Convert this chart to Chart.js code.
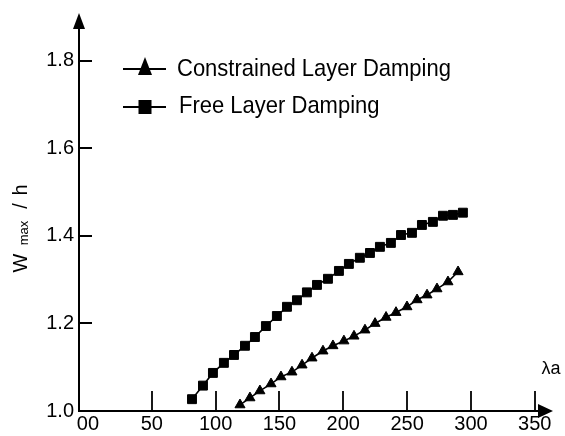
<!DOCTYPE html>
<html><head><meta charset="utf-8">
<script src="https://cdn.jsdelivr.net/npm/chart.js@4/dist/chart.umd.min.js"></script>
<style>html,body{margin:0;padding:0;background:#fff}#wrap{width:565px;height:436px}</style>
</head><body><div id="wrap"><canvas id="c" width="565" height="436"></canvas></div>
<script>
// ---- data ----
const seriesNames = ['Constrained Layer Damping', 'Free Layer Damping'];
const constrainedX = [119.1,126.9,134.7,143.4,151.2,159.8,167.7,175.5,184.1,191.9,200.5,208.4,217.0,224.9,233.5,241.3,249.9,257.8,265.6,273.4,282.0,289.9];
const constrainedY = [1.014,1.030,1.046,1.062,1.078,1.089,1.105,1.121,1.137,1.149,1.160,1.171,1.185,1.200,1.214,1.225,1.238,1.254,1.265,1.279,1.295,1.318];
const freeX = [81.5,90.1,97.9,106.5,114.4,123.0,130.8,139.4,148.0,155.9,163.7,171.5,179.4,188.0,196.6,204.4,213.0,220.9,228.7,237.3,245.2,253.8,261.6,270.2,278.1,285.9,293.7];
const freeY = [1.027,1.058,1.087,1.110,1.128,1.149,1.169,1.194,1.217,1.238,1.253,1.271,1.288,1.302,1.320,1.336,1.350,1.361,1.375,1.384,1.402,1.407,1.425,1.432,1.446,1.448,1.453];
const xTickValues = [0,50,100,150,200,250,300,350];
const xTickLabels = ['00','50','100','150','200','250','300','350'];
const yTickValues = [1.0,1.2,1.4,1.6,1.8];
const yAxisTitle = ['W','max','/','h'];
const xAxisTitle = 'λa';

const FONT = '"Liberation Sans", Arial, Helvetica, sans-serif';
Chart.defaults.font.family = FONT;
Chart.defaults.color = '#000';

const pts = (xs, ys) => xs.map((x, i) => ({x: x, y: ys[i]}));

const decor = {
  id: 'decor',
  afterDraw(chart) {
    const ctx = chart.ctx, a = chart.chartArea;
    const xs = chart.scales.x, ys = chart.scales.y;
    ctx.save();
    ctx.strokeStyle = '#000'; ctx.fillStyle = '#000';
    // inward tick marks
    ctx.lineWidth = 2;
    yTickValues.forEach(v => {
      if (v <= ys.min) return;
      const py = Math.round(ys.getPixelForValue(v));
      ctx.beginPath(); ctx.moveTo(a.left, py); ctx.lineTo(a.left + 13, py); ctx.stroke();
    });
    ctx.lineWidth = 1.8;
    xTickValues.forEach(v => {
      if (v <= 0) return;
      const px = Math.round(xs.getPixelForValue(v));
      ctx.beginPath(); ctx.moveTo(px, a.bottom); ctx.lineTo(px, a.bottom - 20); ctx.stroke();
    });
    // arrows
    ctx.beginPath(); ctx.moveTo(a.left, 13); ctx.lineTo(a.left - 6, 29); ctx.lineTo(a.left + 6, 29); ctx.closePath(); ctx.fill();
    ctx.beginPath(); ctx.moveTo(553, a.bottom); ctx.lineTo(538, a.bottom - 7); ctx.lineTo(538, a.bottom + 7); ctx.closePath(); ctx.fill();
    // x axis title
    ctx.font = '18px ' + FONT; ctx.textAlign = 'center'; ctx.textBaseline = 'middle';
    ctx.fillText(xAxisTitle, 551, 369);
    // y axis title (rotated, with subscript)
    const ypos = [263, 233, 206, 190];
    const sizes = [20, 13, 20, 20];
    yAxisTitle.forEach((t, i) => {
      ctx.save();
      ctx.translate(i === 1 ? 28 : 27, ypos[i]);
      ctx.rotate(-Math.PI / 2);
      ctx.font = sizes[i] + 'px ' + FONT; ctx.textAlign = 'center'; ctx.textBaseline = 'alphabetic';
      ctx.fillText(t, 0, 0);
      ctx.restore();
    });
    // legend
    const rows = [69, 107];
    ctx.lineWidth = 1.8;
    rows.forEach((ry, i) => {
      ctx.beginPath(); ctx.moveTo(123, ry); ctx.lineTo(166, ry); ctx.stroke();
      if (i === 0) {
        ctx.beginPath(); ctx.moveTo(145, 57); ctx.lineTo(138, 75); ctx.lineTo(152, 75); ctx.closePath(); ctx.fill();
      } else {
        ctx.fillRect(138.5, ry - 7, 13, 14);
      }
      ctx.save();
      ctx.translate(i === 0 ? 177 : 179, i === 0 ? 75.5 : 113);
      ctx.scale(1, 1.1);
      ctx.font = '22px ' + FONT; ctx.textAlign = 'left'; ctx.textBaseline = 'alphabetic';
      ctx.fillText(chart.data.datasets[i].label, 0, 0);
      ctx.restore();
    });
    ctx.restore();
  }
};

new Chart(document.getElementById('c'), {
  type: 'scatter',
  data: {
    datasets: [
      {label: seriesNames[0], data: pts(constrainedX, constrainedY), showLine: true,
       borderColor: '#000', backgroundColor: '#000', borderWidth: 1.6,
       pointStyle: 'triangle', pointRadius: 5.8, pointBorderWidth: 1, pointBorderColor: '#000', pointBackgroundColor: '#000'},
      {label: seriesNames[1], data: pts(freeX, freeY), showLine: true,
       borderColor: '#000', backgroundColor: '#000', borderWidth: 1.6,
       pointStyle: 'rect', pointRadius: 6.3, pointBorderWidth: 1, pointBorderColor: '#000', pointBackgroundColor: '#000'}
    ]
  },
  options: {
    responsive: false, animation: false,
    layout: {padding: {top: 17, right: 20, left: 0, bottom: 0}},
    plugins: {legend: {display: false}, tooltip: {enabled: false}},
    scales: {
      x: {
        type: 'linear', min: -7, max: 358,
        afterFit: s => { s.height = 25; },
        afterBuildTicks: s => { s.ticks = xTickValues.map(v => ({value: v})); },
        ticks: {callback: v => xTickLabels[xTickValues.indexOf(v)], font: {size: 20}, color: '#000', padding: 1, maxRotation: 0, autoSkip: false},
        grid: {drawOnChartArea: false, drawTicks: false},
        border: {color: '#000', width: 2}
      },
      y: {
        type: 'linear', min: 1.0, max: 1.9,
        afterFit: s => { s.width = 79; },
        afterBuildTicks: s => { s.ticks = yTickValues.map(v => ({value: v})); },
        ticks: {callback: v => v.toFixed(1), font: {size: 20}, color: '#000', padding: 5, autoSkip: false},
        grid: {drawOnChartArea: false, drawTicks: false},
        border: {color: '#000', width: 2}
      }
    }
  },
  plugins: [decor]
});
</script>
</body></html>
